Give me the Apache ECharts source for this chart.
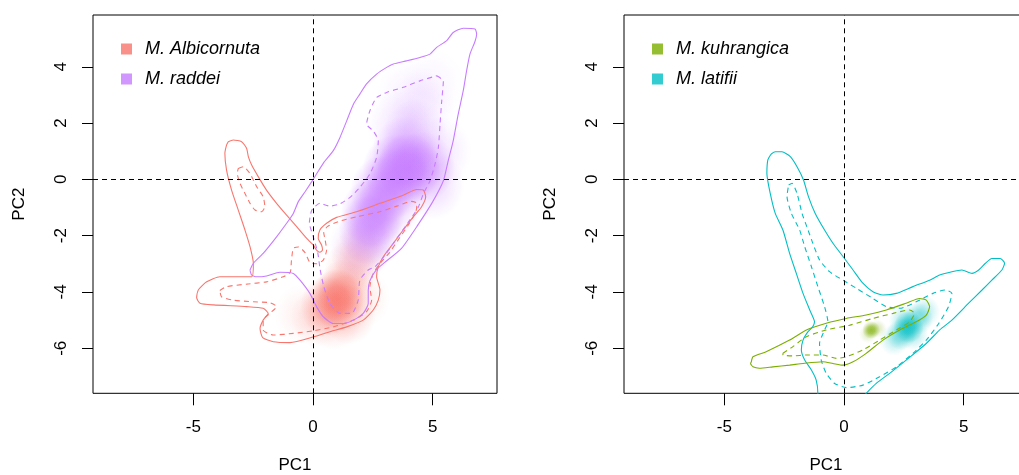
<!DOCTYPE html>
<html><head><meta charset="utf-8">
<script src="https://cdn.jsdelivr.net/npm/echarts@6/dist/echarts.min.js"></script>
<style>html,body{margin:0;padding:0;background:#fff}#c{width:1019px;height:475px}</style>
</head><body><div id="c"></div>
<script>
// ---------- data ----------
const xTicks = [-5, 0, 5];
const yTicks = [-6, -4, -2, 0, 2, 4];
const speciesLeft = ['M. Albicornuta', 'M. raddei'];
const speciesRight = ['M. kuhrangica', 'M. latifii'];

// contours [PC1, PC2]
const albOuter = [[-3.54,1.34],[-3.33,1.40],[-2.98,1.34],[-2.77,1.10],[-2.70,0.81],[-2.56,0.51],[-2.28,0.09],[-1.94,-0.38],[-1.52,-0.85],[-1.10,-1.27],[-0.68,-1.68],[-0.26,-2.10],[0.01,-2.33],[0.15,-2.51],[0.29,-2.59],[0.40,-2.51],[0.36,-2.33],[0.22,-2.10],[0.29,-1.80],[0.57,-1.56],[0.99,-1.35],[1.82,-1.15],[2.80,-0.85],[3.77,-0.56],[4.33,-0.36],[4.61,-0.38],[4.71,-0.62],[4.54,-0.97],[4.19,-1.33],[3.77,-1.80],[3.36,-2.27],[2.94,-2.75],[2.73,-3.10],[2.66,-3.46],[2.80,-3.93],[2.73,-4.29],[2.52,-4.64],[2.10,-5.00],[1.41,-5.24],[0.71,-5.41],[0.01,-5.60],[-0.96,-5.80],[-1.66,-5.77],[-2.10,-5.62],[-2.21,-5.30],[-2.08,-5.00],[-1.87,-4.76],[-2.08,-4.58],[-2.77,-4.52],[-4.16,-4.46],[-4.72,-4.40],[-4.86,-4.20],[-4.79,-3.93],[-4.44,-3.64],[-3.89,-3.46],[-3.05,-3.46],[-2.55,-3.46],[-2.49,-2.98],[-2.63,-2.39],[-2.84,-1.80],[-3.12,-1.09],[-3.40,-0.38],[-3.61,0.33],[-3.68,0.92],[-3.61,1.22],[-3.54,1.34]];
const albInnerA = [[-3.12,0.39],[-2.91,0.45],[-2.63,0.21],[-2.35,-0.26],[-2.08,-0.62],[-2.01,-0.97],[-2.14,-1.15],[-2.42,-1.09],[-2.63,-0.85],[-2.84,-0.50],[-3.05,-0.14],[-3.16,0.21],[-3.12,0.39]];
const albInnerB = [[-3.89,-3.95],[-3.61,-3.81],[-2.77,-3.72],[-1.94,-3.64],[-1.24,-3.46],[-0.95,-3.30],[-0.90,-2.90],[-0.82,-2.45],[-0.61,-2.40],[-0.33,-2.60],[-0.13,-2.95],[0.15,-3.00],[0.43,-2.87],[0.57,-2.51],[0.50,-2.10],[0.45,-1.90],[0.60,-1.68],[1.06,-1.50],[1.82,-1.33],[2.80,-1.15],[3.50,-0.95],[4.10,-0.78],[4.35,-0.85],[4.30,-1.15],[4.00,-1.60],[3.60,-2.10],[3.20,-2.60],[2.80,-2.99],[2.52,-3.34],[2.38,-3.81],[2.45,-4.29],[2.24,-4.70],[1.69,-5.00],[0.85,-5.24],[0.01,-5.38],[-0.82,-5.47],[-1.66,-5.53],[-2.08,-5.35],[-2.08,-5.00],[-1.80,-4.76],[-1.52,-4.52],[-1.80,-4.38],[-2.49,-4.35],[-3.33,-4.29],[-3.82,-4.17],[-3.89,-3.95]];
const radOuter = [[-2.63,-3.22],[-2.49,-2.98],[-2.08,-2.63],[-1.52,-2.04],[-1.10,-1.56],[-0.82,-1.21],[-0.61,-0.79],[-0.33,-0.44],[0.01,0.00],[0.43,0.57],[0.85,1.02],[1.13,1.49],[1.41,2.08],[1.69,2.67],[1.96,3.03],[2.24,3.39],[2.66,3.74],[3.08,3.98],[3.36,4.10],[3.91,4.21],[4.47,4.33],[4.89,4.45],[5.17,4.69],[5.59,4.93],[5.86,5.22],[6.28,5.37],[6.77,5.34],[6.84,5.16],[6.77,4.90],[6.56,4.45],[6.42,3.86],[6.28,3.15],[6.07,2.32],[5.86,1.37],[5.65,0.66],[5.45,-0.05],[5.00,-0.80],[4.40,-1.60],[3.70,-2.45],[3.00,-2.95],[2.66,-3.20],[2.38,-3.60],[2.31,-3.95],[2.31,-4.41],[2.10,-4.76],[1.69,-5.00],[1.27,-5.12],[0.85,-5.12],[0.43,-4.88],[0.15,-4.52],[-0.13,-4.05],[-0.54,-3.58],[-0.82,-3.34],[-1.38,-3.30],[-1.94,-3.43],[-2.35,-3.46],[-2.56,-3.40],[-2.63,-3.22]];
const radInner = [[5.17,3.68],[5.45,3.50],[5.38,2.79],[5.31,1.96],[5.24,1.13],[5.10,0.54],[4.89,-0.05],[4.61,-0.52],[4.40,-0.99],[4.00,-1.50],[3.50,-2.10],[3.00,-2.70],[2.60,-3.10],[2.31,-3.22],[1.96,-3.58],[1.89,-4.29],[1.62,-4.76],[1.13,-4.76],[0.71,-4.41],[0.45,-3.80],[0.30,-3.20],[0.20,-2.60],[0.00,-2.00],[-0.15,-1.55],[-0.05,-1.10],[0.29,-0.85],[0.70,-0.95],[1.13,-0.87],[1.55,-0.64],[1.96,-0.28],[2.38,0.19],[2.66,0.78],[2.73,1.37],[2.52,1.72],[2.24,1.96],[2.38,2.44],[2.66,2.91],[3.08,3.09],[3.77,3.27],[4.47,3.50],[5.17,3.68]];
const kuhOuter = [[-3.87,-6.48],[-3.80,-6.30],[-3.25,-6.12],[-2.27,-5.71],[-1.57,-5.35],[-0.74,-5.11],[0.10,-4.94],[0.93,-4.82],[1.77,-4.64],[2.60,-4.40],[3.16,-4.23],[3.44,-4.29],[3.58,-4.52],[3.44,-4.82],[3.02,-5.06],[2.33,-5.35],[1.63,-5.71],[0.93,-6.18],[0.38,-6.48],[-0.04,-6.60],[-0.46,-6.54],[-0.88,-6.48],[-1.71,-6.54],[-2.27,-6.60],[-2.97,-6.66],[-3.53,-6.71],[-3.80,-6.66],[-3.90,-6.54],[-3.87,-6.48]];
const kuhInner = [[-2.55,-6.18],[-2.13,-5.94],[-1.57,-5.59],[-0.74,-5.35],[0.24,-5.18],[1.21,-4.94],[2.05,-4.76],[2.74,-4.64],[2.95,-4.76],[2.74,-5.06],[2.19,-5.35],[1.49,-5.71],[0.79,-6.06],[0.10,-6.30],[-0.32,-6.36],[-0.88,-6.24],[-1.57,-6.24],[-2.13,-6.27],[-2.55,-6.24],[-2.55,-6.18]];
const latOuter = [[-3.04,0.90],[-2.87,0.98],[-2.59,0.98],[-2.24,0.81],[-1.96,0.45],[-1.69,-0.02],[-1.48,-0.62],[-1.20,-1.21],[-0.81,-1.80],[-0.46,-2.27],[-0.04,-2.74],[0.38,-3.22],[0.79,-3.69],[1.21,-3.99],[1.63,-4.11],[2.19,-4.05],[2.88,-3.81],[3.58,-3.58],[4.00,-3.40],[4.51,-3.28],[4.93,-3.22],[5.35,-3.34],[5.63,-3.22],[5.91,-2.98],[6.18,-2.81],[6.53,-2.81],[6.71,-2.98],[6.60,-3.22],[6.18,-3.58],[5.77,-3.93],[5.21,-4.40],[4.51,-5.00],[4.00,-5.35],[3.44,-5.83],[2.60,-6.42],[1.91,-6.89],[1.35,-7.25],[0.93,-7.60],[0.60,-7.90],[-1.10,-7.90],[-1.09,-7.60],[-1.16,-7.13],[-1.36,-6.77],[-1.64,-6.42],[-1.78,-6.06],[-1.71,-5.71],[-1.50,-5.41],[-1.30,-5.23],[-1.23,-5.06],[-1.43,-4.64],[-1.71,-4.05],[-1.99,-3.34],[-2.27,-2.63],[-2.55,-1.80],[-2.87,-1.21],[-3.08,-0.50],[-3.22,0.21],[-3.18,0.69],[-3.04,0.90]];
const latInner = [[-2.31,-0.20],[-2.17,-0.14],[-1.96,-0.50],[-1.75,-1.21],[-1.50,-1.80],[-1.30,-2.27],[-1.02,-2.86],[-0.60,-3.28],[-0.04,-3.58],[0.52,-3.87],[1.21,-4.23],[1.77,-4.52],[2.33,-4.58],[3.02,-4.35],[3.72,-4.05],[4.23,-3.93],[4.51,-4.05],[4.37,-4.52],[3.96,-5.12],[3.44,-5.71],[2.88,-6.18],[2.19,-6.66],[1.49,-7.01],[0.79,-7.31],[0.10,-7.40],[-0.39,-7.25],[-0.74,-6.89],[-0.95,-6.42],[-1.02,-5.83],[-0.81,-5.35],[-0.67,-5.06],[-0.81,-4.52],[-1.09,-3.81],[-1.36,-3.10],[-1.64,-2.39],[-1.85,-1.80],[-2.20,-1.20],[-2.38,-0.60],[-2.31,-0.20]];

// density kernels [PC1, PC2, intensity]
const albDensity = [[1.0,-4.25,1.0],[0.6,-4.5,0.55],[1.3,-3.9,0.5],[1.6,-3.2,0.3],[1.9,-2.7,0.2],[0.2,-4.9,0.25],[-0.5,-4.8,0.12],[1.5,-4.8,0.35],[0.9,-5.0,0.25],[2.1,-4.2,0.15],[2.2,-2.4,0.12]];
const radDensity = [[4.0,0.4,0.9],[3.4,0.35,0.75],[4.6,0.45,0.65],[3.8,1.0,0.55],[3.6,-0.1,0.6],[2.9,-0.4,0.7],[2.5,-1.2,0.8],[2.4,-1.8,0.7],[3.2,-0.9,0.45],[2.0,-2.4,0.3],[4.3,1.6,0.3],[3.6,1.9,0.2],[4.6,2.6,0.14],[4.0,3.0,0.1],[5.0,3.4,0.08],[5.0,-0.2,0.3],[5.3,1.0,0.2]];
const kuhDensity = [[1.14,-5.35,0.95],[1.4,-5.3,0.3],[1.0,-5.5,0.25]];
const latDensity = [[2.7,-5.25,1.0],[2.4,-5.5,0.55],[3.1,-4.95,0.55],[3.4,-4.7,0.3],[2.1,-5.7,0.3],[2.9,-5.5,0.35],[2.5,-5.0,0.35]];

// ---------- chart ----------
const FONT = '"Liberation Sans", Arial, Helvetica, sans-serif';
const COL = {alb:'#F8766D', rad:'#C77CFF', kuh:'#7CAE00', lat:'#00BFC4'};
function rgba(hex, a) {
  const n = parseInt(hex.slice(1), 16);
  return 'rgba(' + ((n >> 16) & 255) + ',' + ((n >> 8) & 255) + ',' + (n & 255) + ',' + Math.max(0, Math.min(1, a)) + ')';
}
function blob(name, dens, color, gi, size) {
  return {
    type: 'scatter', name: name, xAxisIndex: gi, yAxisIndex: gi, symbol: 'circle', symbolSize: size,
    z: 1, silent: true, itemStyle: {color: color}, emphasis: {disabled: true},
    data: dens.map(d => ({value: [d[0], d[1]], itemStyle: {color: {type: 'radial', x: 0.5, y: 0.5, r: 0.5,
      colorStops: [{offset: 0, color: rgba(color, d[2])}, {offset: 0.4, color: rgba(color, d[2] * 0.8)},
                   {offset: 0.75, color: rgba(color, d[2] * 0.3)}, {offset: 1, color: rgba(color, 0)}]}}}))
  };
}
function contour(name, pts, color, dashed, gi, ref) {
  const s = {
    type: 'line', name: name, xAxisIndex: gi, yAxisIndex: gi, data: pts, showSymbol: false, symbol: 'none',
    smooth: 0.2, z: 3, silent: true, lineStyle: {color: color, width: 1.1, type: dashed ? [5, 4] : 'solid'}
  };
  if (ref) {
    s.markLine = {silent: true, symbol: 'none', label: {show: false}, animation: false,
      lineStyle: {color: '#000', width: 1, type: [5, 4]}, data: [{xAxis: 0}, {yAxis: 0}]};
  }
  return s;
}
function xAx(gi) {
  return {gridIndex: gi, type: 'value', min: -9.19, max: 7.69,
    axisLine: {show: false, onZero: false}, splitLine: {show: false},
    axisTick: {show: true, length: 12, inside: false, customValues: xTicks, lineStyle: {color: '#000', width: 1}},
    axisLabel: {customValues: xTicks, margin: 26, fontSize: 17, color: '#000', fontFamily: FONT},
    name: 'PC1', nameLocation: 'middle', nameGap: 64,
    nameTextStyle: {fontSize: 17, color: '#000', fontFamily: FONT}};
}
function yAx(gi) {
  return {gridIndex: gi, type: 'value', min: -7.6, max: 5.84,
    axisLine: {show: false, onZero: false}, splitLine: {show: false},
    axisTick: {show: true, length: 11, inside: false, customValues: yTicks, lineStyle: {color: '#000', width: 1}},
    axisLabel: {customValues: yTicks, margin: 23, rotate: 90, fontSize: 17, color: '#000', fontFamily: FONT},
    name: 'PC2', nameLocation: 'middle', nameGap: 65,
    nameTextStyle: {fontSize: 17, color: '#000', fontFamily: FONT}};
}
function legend(names, left) {
  return {data: names, left: left, top: 35, orient: 'vertical', icon: 'rect', itemWidth: 11, itemHeight: 11,
    itemGap: 12, selectedMode: false,
    textStyle: {fontSize: 18, fontStyle: 'italic', color: '#000', fontFamily: FONT, padding: [0, 0, 0, 8]}};
}

const chart = echarts.init(document.getElementById('c'), null, {renderer: 'canvas'});
chart.setOption({
  animation: false,
  backgroundColor: '#fff',
  grid: [
    {left: 93, top: 15, width: 404, height: 378.3, show: true, borderColor: '#000', borderWidth: 1, outerBoundsMode: 'none'},
    {left: 624, top: 15, width: 404, height: 378.3, show: true, borderColor: '#000', borderWidth: 1, outerBoundsMode: 'none'}
  ],
  xAxis: [xAx(0), xAx(1)],
  yAxis: [yAx(0), yAx(1)],
  legend: [legend(speciesLeft, 116), legend(speciesRight, 647)],
  series: [
    blob(speciesLeft[0], albDensity, COL.alb, 0, [54, 60]),
    blob(speciesLeft[1], radDensity, COL.rad, 0, [64, 70]),
    blob(speciesRight[0], kuhDensity, COL.kuh, 1, [18, 18]),
    blob(speciesRight[1], latDensity, COL.lat, 1, [30, 32]),
    contour('alb-outer', albOuter, COL.alb, false, 0, true),
    contour('alb-innerA', albInnerA, COL.alb, true, 0),
    contour('alb-innerB', albInnerB, COL.alb, true, 0),
    contour('rad-outer', radOuter, COL.rad, false, 0),
    contour('rad-inner', radInner, COL.rad, true, 0),
    contour('lat-outer', latOuter, COL.lat, false, 1, true),
    contour('lat-inner', latInner, COL.lat, true, 1),
    contour('kuh-outer', kuhOuter, COL.kuh, false, 1),
    contour('kuh-inner', kuhInner, COL.kuh, true, 1)
  ]
});
</script></body></html>
